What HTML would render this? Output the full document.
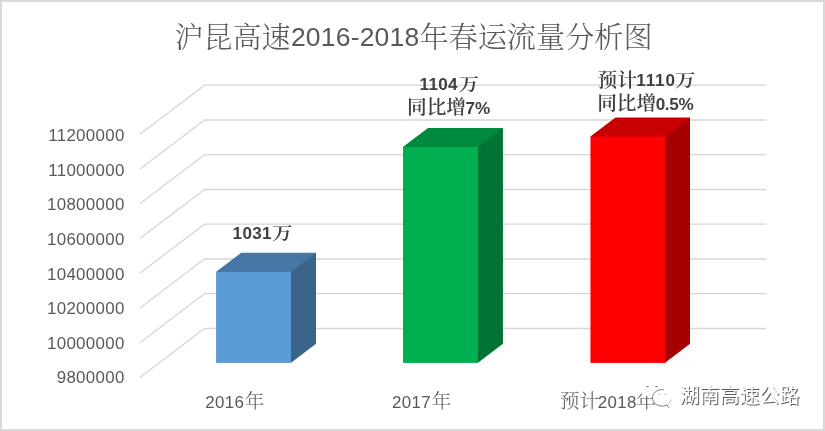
<!DOCTYPE html>
<html lang="zh-CN">
<head>
<meta charset="utf-8">
<title>沪昆高速2016-2018年春运流量分析图</title>
<style>
html,body{margin:0;padding:0;background:#fff;}
body{width:825px;height:431px;overflow:hidden;}
svg{display:block;}
.lat{font-family:"Liberation Sans",sans-serif;}
.cjk{font-family:"Noto Serif CJK SC","Liberation Serif",serif;font-weight:300;}
.cjkb{font-family:"Noto Serif CJK SC","Liberation Serif",serif;font-weight:600;}
.wm{font-family:"Liberation Sans","Noto Sans CJK SC",sans-serif;}
</style>
</head>
<body>
<svg width="825" height="431" viewBox="0 0 825 431">
<rect x="0" y="0" width="825" height="431" fill="#ffffff"/>
<rect x="1" y="1" width="823" height="429" fill="none" stroke="#d9d9d9" stroke-width="2"/>

<!-- title -->
<text x="174.6" y="47.6" fill="#595959"><tspan class="cjk" font-size="29">沪昆高速</tspan><tspan class="lat" font-size="26.5" dy="-1.6" dx="0.3" letter-spacing="0.2">2016-2018</tspan><tspan class="cjk" font-size="29.15" dy="1.6" dx="0">年春运流量分析图</tspan></text>

<!-- gridlines -->
<g fill="none" stroke="#d6d6d6" stroke-width="1.3" stroke-linejoin="round">
<polyline points="139.9,134.2 204.5,85.2 766.0,85.2"/>
<polyline points="139.9,169.0 204.5,120.0 766.0,120.0"/>
<polyline points="139.9,203.7 204.5,154.7 766.0,154.7"/>
<polyline points="139.9,238.5 204.5,189.5 766.0,189.5"/>
<polyline points="139.9,273.2 204.5,224.2 766.0,224.2"/>
<polyline points="139.9,308.0 204.5,259.0 766.0,259.0"/>
<polyline points="139.9,342.7 204.5,293.7 766.0,293.7"/>
<polyline points="139.9,377.5 204.5,328.5 766.0,328.5"/>
</g>

<!-- bars -->
<polygon fill="#4577a4" points="216.6,362.40000000000003 216.6,271.8 241.5,253.20000000000002 315.6,253.20000000000002 315.6,343.5 290.7,362.40000000000003"/>
<polygon fill="#3a648a" points="291.0,271.8 316.0,252.8 316.0,343.8 291.0,362.8"/>
<polygon fill="#4577a4" points="216.2,271.8 241.2,252.8 316.0,252.8 291.0,271.8"/>
<rect fill="#5b9bd5" x="216.2" y="271.8" width="74.8" height="91.0"/>
<polygon fill="#008a3e" points="403.4,362.40000000000003 403.4,147.0 428.3,128.4 502.5,128.4 502.5,343.5 477.59999999999997,362.40000000000003"/>
<polygon fill="#007434" points="477.9,147.0 502.9,128.0 502.9,343.8 477.9,362.8"/>
<polygon fill="#008a3e" points="403.0,147.0 428.0,128.0 502.9,128.0 477.9,147.0"/>
<rect fill="#00b050" x="403.0" y="147.0" width="74.9" height="215.8"/>
<polygon fill="#c80000" points="590.9,362.40000000000003 590.9,136.5 615.8,117.9 689.6,117.9 689.6,343.5 664.7,362.40000000000003"/>
<polygon fill="#a60000" points="665.0,136.5 690.0,117.5 690.0,343.8 665.0,362.8"/>
<polygon fill="#c80000" points="590.5,136.5 615.5,117.5 690.0,117.5 665.0,136.5"/>
<rect fill="#ff0000" x="590.5" y="136.5" width="74.5" height="226.3"/>

<!-- value axis -->
<g class="lat" font-size="16.9" fill="#595959" letter-spacing="0.3">
<text x="124.6" y="141.0" text-anchor="end">11200000</text>
<text x="124.6" y="175.6" text-anchor="end">11000000</text>
<text x="124.6" y="210.3" text-anchor="end">10800000</text>
<text x="124.6" y="244.9" text-anchor="end">10600000</text>
<text x="124.6" y="279.5" text-anchor="end">10400000</text>
<text x="124.6" y="314.1" text-anchor="end">10200000</text>
<text x="124.6" y="348.8" text-anchor="end">10000000</text>
<text x="124.6" y="383.4" text-anchor="end">9800000</text>
</g>

<!-- category axis -->
<g fill="#595959">
<text x="205.2" y="407.8"><tspan class="lat" font-size="16.9" letter-spacing="0.35">2016</tspan><tspan class="cjk" font-size="19.6" dx="0.6">年</tspan></text>
<text x="392.1" y="407.8"><tspan class="lat" font-size="16.9" letter-spacing="0.35">2017</tspan><tspan class="cjk" font-size="19.6" dx="0.6">年</tspan></text>
<text x="560.0" y="407.8"><tspan class="cjk" font-size="19.6">预计</tspan><tspan class="lat" font-size="16.9" letter-spacing="0.35" dx="-1.5">2018</tspan><tspan class="cjk" font-size="19.6" dx="-0.4">年</tspan></text>
</g>

<!-- data labels -->
<g fill="#404040" font-weight="bold">
<text x="232.6" y="238.7"><tspan class="lat" font-size="17.1" letter-spacing="0.3">1031</tspan><tspan class="cjkb" font-size="18" dx="0.3" dy="1.3" textLength="20.5" lengthAdjust="spacingAndGlyphs">万</tspan></text>
<text x="419.6" y="90.1"><tspan class="lat" font-size="17.1" letter-spacing="0.3">1104</tspan><tspan class="cjkb" font-size="18" dx="0.6" dy="1.3" textLength="20.5" lengthAdjust="spacingAndGlyphs">万</tspan></text>
<text x="407" y="114.4"><tspan class="cjkb" font-size="19.7">同比增</tspan><tspan class="lat" font-size="17.1" dx="-0.6" dy="-0.5">7%</tspan></text>
<text x="597.6" y="86.5"><tspan class="cjkb" font-size="19.7">预计</tspan><tspan class="lat" font-size="17.1" letter-spacing="0.9" dx="-0.8" dy="-0.5">1110</tspan><tspan class="cjkb" font-size="18" dx="-0.9" dy="1.1" textLength="20.5" lengthAdjust="spacingAndGlyphs">万</tspan></text>
<text x="597.2" y="110.1"><tspan class="cjkb" font-size="19.7">同比增</tspan><tspan class="lat" font-size="17.1" letter-spacing="-0.3" dx="-0.6" dy="-0.5">0.5%</tspan></text>
</g>

<!-- watermark -->
<g>
<path d="M638 386.5a12 10 0 1 1 6.2 8.7l-3.4 2.2 1-3.6a12 10 0 0 1 -3.8 -7.3z" fill="#ffffff"/>
<rect x="646.4" y="386.2" width="2.2" height="1" fill="#666666"/>
<rect x="655.4" y="386" width="2.2" height="1" fill="#666666"/>
<ellipse cx="662.0" cy="397.8" rx="9.6" ry="8.3" fill="#ffffff"/>
<path d="M663.34 389.58A9.6 8.3 0 1 0 667.09 404.84l1.6 2.6" fill="none" stroke="#6e6e6e" stroke-width="0.9" stroke-linecap="round"/>
<path d="M671.39 399.53A9.6 8.3 0 0 1 668.79 403.67" fill="none" stroke="#b0b0b0" stroke-width="0.8"/>
<rect x="657.8" y="393.8" width="2.6" height="1" fill="#c4c4c4"/>
<rect x="664.4" y="393.8" width="2.6" height="1" fill="#c4c4c4"/>
<text class="wm" x="680.5" y="403.8" font-size="20" fill="#5c5c5c">湖南高速公路</text>
<text class="wm" x="679.4" y="402.7" font-size="20" fill="#ffffff">湖南高速公路</text>
</g>
</svg>
</body>
</html>
